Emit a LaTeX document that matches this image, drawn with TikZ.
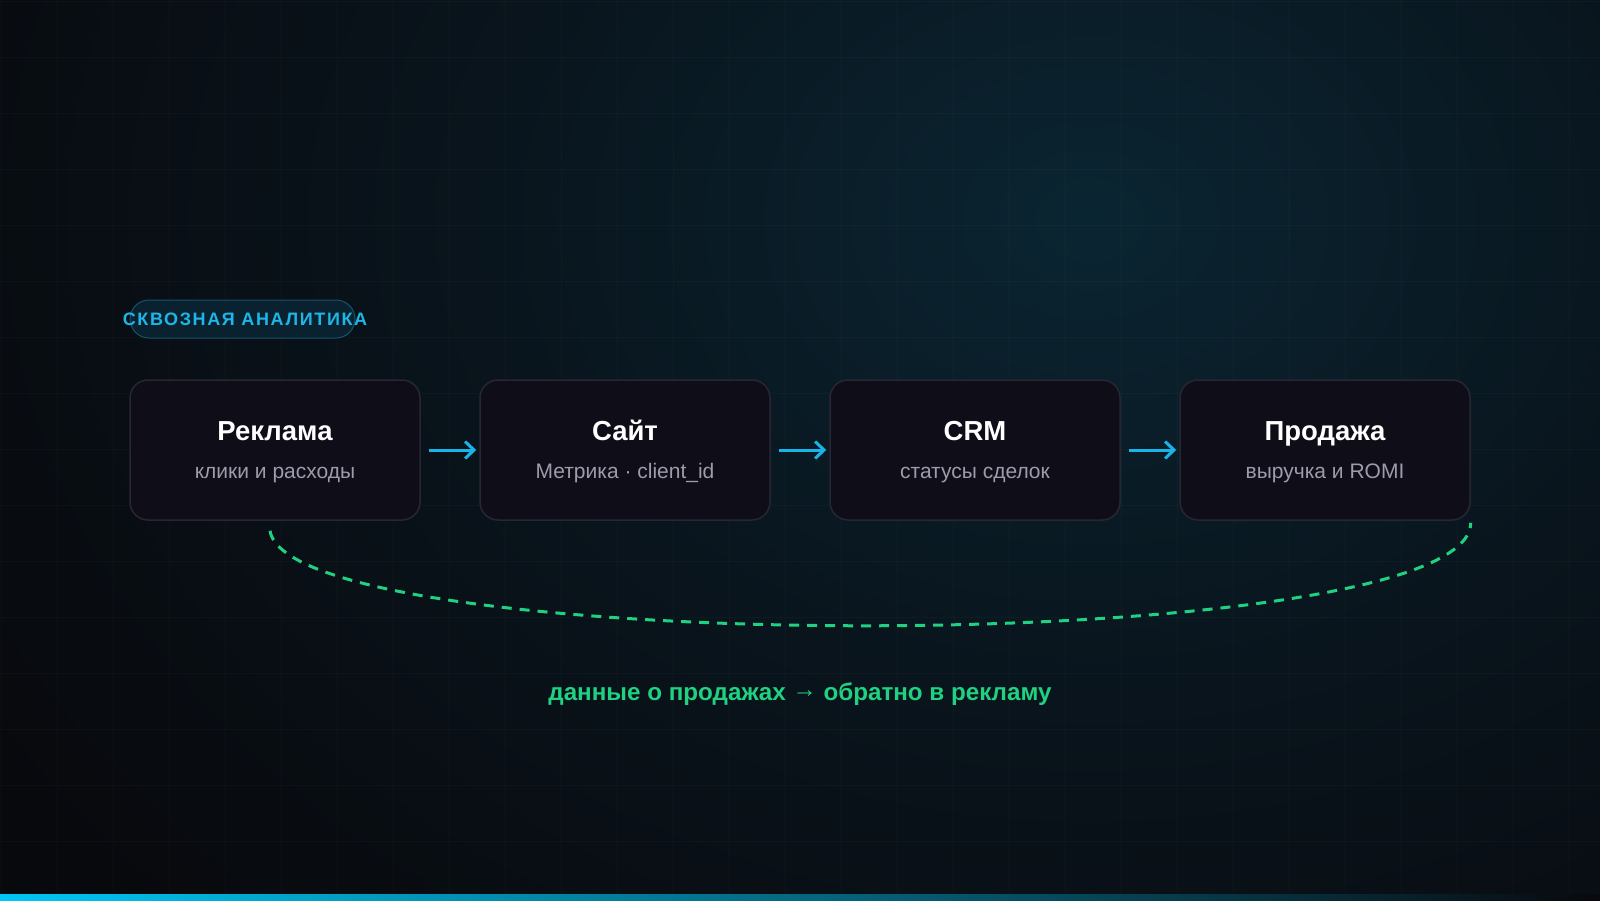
\documentclass[tikz,border=0pt]{standalone}
\usepackage{fontspec}
\setmainfont{Liberation Sans}
\newfontfamily\tagfont[LetterSpace=9]{Liberation Sans}
\usetikzlibrary{arrows.meta}
\definecolor{bgc}{HTML}{08090D}
\definecolor{glowc}{HTML}{0A2532}
\definecolor{midc}{HTML}{09141C}
\definecolor{cardfill}{HTML}{0E0D18}
\definecolor{cardline}{HTML}{272733}
\definecolor{flowc}{HTML}{18B4EA}
\definecolor{greenc}{HTML}{1FD180}
\definecolor{subc}{HTML}{9C9CAA}
\definecolor{tagc}{HTML}{1EB6E6}
\definecolor{tagfill}{HTML}{0A2230}
\definecolor{tagline}{HTML}{17536A}
\definecolor{barc}{HTML}{00C6F5}
\pgfdeclareradialshading{glowsh}{\pgfpoint{0bp}{0bp}}{color(0bp)=(glowc); color(12bp)=(midc); color(25bp)=(bgc); color(50bp)=(bgc)}
\tikzset{
  gridline/.style={white, opacity=0.025, line width=1pt},
  card/.style={draw=cardline, fill=cardfill, line width=1.5pt, rounded corners=18pt, minimum width=290pt, minimum height=140pt, inner sep=0pt},
  ttl/.style={font=\fontsize{27.5}{32}\selectfont\bfseries, text=white, anchor=base, inner sep=0pt},
  sub/.style={font=\fontsize{21}{25}\selectfont, text=subc, anchor=base, inner sep=0pt},
  flow/.style={draw=flowc, line width=3pt, shorten <=8pt, shorten >=3pt, -{Straight Barb[length=9pt, width=17pt]}},
  feedback/.style={draw=greenc, line width=3pt, dash pattern=on 10pt off 8pt},
  fbl/.style={font=\fontsize{24.2}{29}\selectfont\bfseries, text=greenc, anchor=base, inner sep=0pt},
  tagpill/.style={draw=tagline, fill=tagfill, line width=1pt, rounded corners=19pt, minimum width=225pt, minimum height=38pt, inner sep=0pt},
  tagtext/.style={font=\fontsize{18}{22}\selectfont\bfseries\tagfont, text=tagc, anchor=base, inner sep=0pt}
}
\begin{document}
\begin{tikzpicture}[x=1pt,y=-1pt]
\useasboundingbox (0,0) rectangle (1600,900);
\fill[bgc] (0,0) rectangle (1600,900);
\begin{scope}
  \clip (0,0) rectangle (1600,900);
  \shade[shading=glowsh] (1090,220) ellipse [x radius=1300pt, y radius=1000pt];
\end{scope}
\foreach \i in {0,...,28} \draw[gridline] (56*\i+1,0) -- (56*\i+1,900);
\foreach \j in {0,...,16} \draw[gridline] (0,56*\j+1) -- (1600,56*\j+1);

% tag
\node[tagpill] (tagbg) at (242.5,319) {};
\node[tagtext] (tag) at (245,325) {\tagfont\bfseries СКВОЗНАЯ АНАЛИТИКА};

% cards
\node[card] (b1) at (275,450) {};
\node[card] (b2) at (625,450) {};
\node[card] (b3) at (975,450) {};
\node[card] (b4) at (1325,450) {};

\node[ttl] (t1) at (275,440) {Реклама};
\node[sub] (s1) at (275,478) {клики и расходы};
\node[ttl] (t2) at (625,440) {Сайт};
\node[sub] (s2) at (625,478) {Метрика · client\_id};
\node[ttl] (t3) at (975,440) {CRM};
\node[sub] (s3) at (975,478) {статусы сделок};
\node[ttl] (t4) at (1325,440) {Продажа};
\node[sub] (s4) at (1325,478) {выручка и ROMI};

\draw[flow] (b1.east) -- (b2.west);
\draw[flow] (b2.east) -- (b3.west);
\draw[flow] (b3.east) -- (b4.west);

% feedback loop
\draw[feedback] ([xshift=-5pt,yshift=-10pt]b1.south) .. controls +(20,128) and +(0,136) .. ([yshift=-2pt]b4.south east);
\node[fbl] (fl) at (800,700) {данные о продажах \raisebox{3pt}{→} обратно в рекламу};

% bottom bar
\shade[left color=barc, right color=bgc] (0,894) rectangle (1600,900);
\end{tikzpicture}
\end{document}
